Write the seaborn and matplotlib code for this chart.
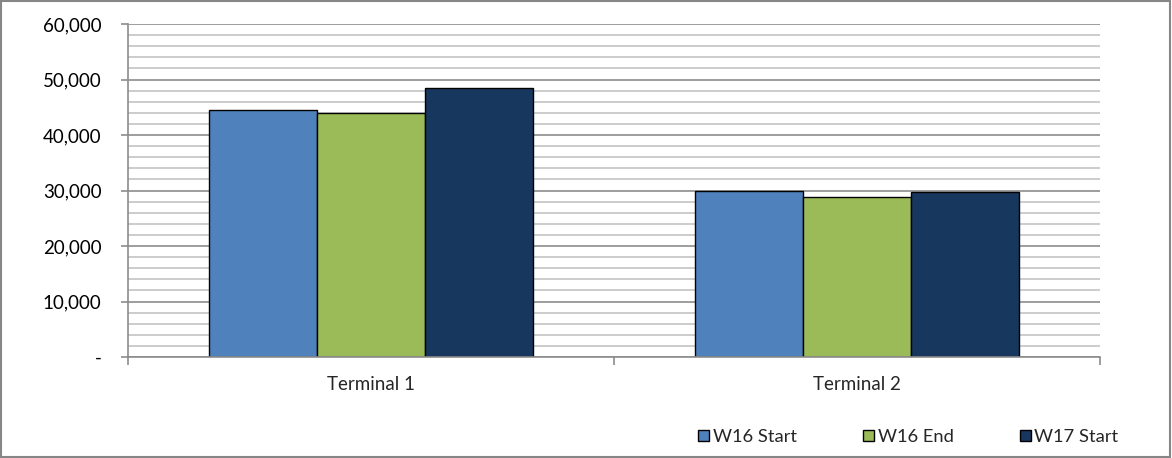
import pandas as pd
import numpy as np
import matplotlib
matplotlib.use("Agg")
import matplotlib.pyplot as plt
import seaborn as sns
from matplotlib.ticker import FuncFormatter, MultipleLocator
from matplotlib.patches import Rectangle

# --- data ---
terminals = ["Terminal 1", "Terminal 2"]
series = ["W16 Start", "W16 End", "W17 Start"]
w16_start = [44500, 29900]
w16_end = [44050, 28900]
w17_start = [48500, 29750]
colors = ["#4F81BD", "#9BBB59", "#17375E"]

sns.set_theme(style="white")
plt.rcParams.update({"font.family": ["Lato", "DejaVu Sans"], "font.size": 13})

df = pd.DataFrame({
    "Terminal": terminals * 3,
    "Series": np.repeat(series, len(terminals)),
    "Value": w16_start + w16_end + w17_start,
})

fig = plt.figure(figsize=(11.72, 4.58), dpi=100)
ax = fig.add_axes([0.1092, 0.2205, 0.9386 - 0.1092, 0.9476 - 0.2205])

sns.barplot(data=df, x="Terminal", y="Value", hue="Series", palette=colors,
            width=2 / 3, edgecolor="black", linewidth=1.0, saturation=1,
            errorbar=None, ax=ax)

ax.set_xlim(-0.5, 1.5)
ax.set_ylim(0, 60000)
ax.yaxis.set_major_locator(MultipleLocator(10000))
ax.yaxis.set_minor_locator(MultipleLocator(2000))
ax.yaxis.set_major_formatter(FuncFormatter(lambda v, p: "-" if v == 0 else f"{v:,.0f}"))
ax.set_axisbelow(True)
ax.grid(True, which="major", axis="y", color="#8c8c8c", linewidth=1.2)
ax.grid(True, which="minor", axis="y", color="#c4c4c4", linewidth=1.2)
ax.grid(False, axis="x")

ax.set_xlabel("")
ax.set_ylabel("")
for s in ["top", "right"]:
    ax.spines[s].set_visible(False)
for s in ["left", "bottom"]:
    ax.spines[s].set_color("#8c8c8c")
    ax.spines[s].set_linewidth(1.2)

ax.tick_params(axis="y", which="major", left=True, length=5, color="#8c8c8c",
               width=1.2, labelsize=13.5, labelcolor="black", pad=14)
ax.tick_params(axis="y", which="minor", left=False)
ax.set_xticks([-0.5, 0.5, 1.5], minor=True)
ax.tick_params(axis="x", which="minor", bottom=True, length=6, color="#8c8c8c", width=1.2)
ax.tick_params(axis="x", which="major", bottom=False, labelsize=13.5, pad=8)

ax.legend(loc="center right", bbox_to_anchor=(0.962, 0.046), bbox_transform=fig.transFigure,
          ncol=3, frameon=False, fontsize=13.2, handlelength=0.6, handleheight=0.6,
          handletextpad=0.2, columnspacing=3.6, borderpad=0)

fig.add_artist(Rectangle((0.001, 0.002), 0.997, 0.996, transform=fig.transFigure,
                         fill=False, edgecolor="#868686", linewidth=1.5))

fig.savefig("out.png", dpi=100)
